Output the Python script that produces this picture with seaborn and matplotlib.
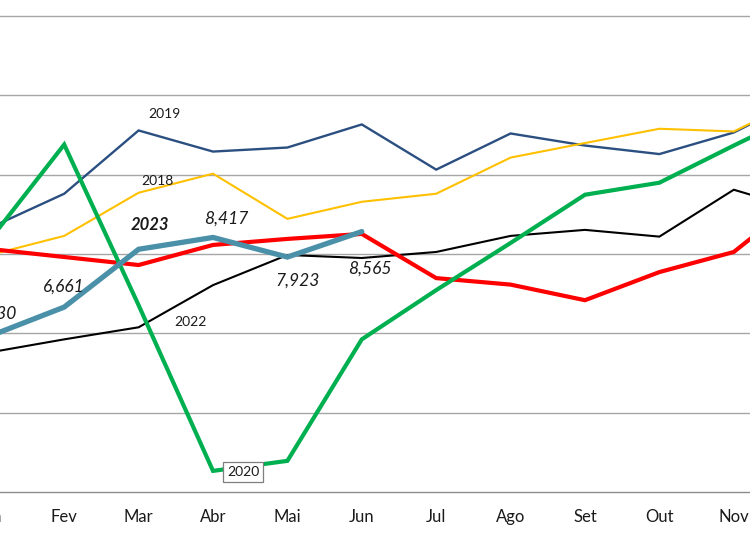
import matplotlib
matplotlib.use("Agg")
import matplotlib.pyplot as plt
import seaborn as sns
import pandas as pd
from matplotlib.ticker import FixedLocator

months = ["Jan", "Fev", "Mar", "Abr", "Mai", "Jun", "Jul", "Ago", "Set", "Out", "Nov", "Dez"]

v2018 = [7975, 8456, 9544, 10025, 8886, 9316, 9519, 10430, 10797, 11157, 11089, 12000]
v2019 = [8658, 9519, 11114, 10582, 10684, 11266, 10127, 11038, 10734, 10519, 11063, 12000]
v2020 = [8354, 10759, 6709, 2532, 2785, 5848, 7089, 8278, 9494, 9797, 10734, 11646]
v2021 = [8127, 7924, 7722, 8228, 8380, 8506, 7392, 7228, 6835, 7544, 8051, 9544]
v2022 = [5519, 5848, 6152, 7215, 7975, 7899, 8051, 8456, 8608, 8438, 9620, 9063]
v2023 = [5930, 6661, 8119, 8417, 7923, 8565]

sns.set_theme(style="white")
plt.rcParams["font.family"] = ["Lato", "DejaVu Sans"]

fig = plt.figure(figsize=(7.5, 5.36), dpi=100)
# axes extend past the figure edges (the reference is a crop of a wider chart)
ax = fig.add_axes([-0.1, 0.0821, 1.2, 0.9179])

series = [
    ("2022", v2022, "#000000", 1.5),
    ("2019", v2019, "#2B4F81", 1.7),
    ("2018", v2018, "#FFC000", 1.5),
    ("2021", v2021, "#FF0000", 3.0),
    ("2020", v2020, "#00B050", 3.0),
    ("2023", v2023, "#4A90A8", 3.8),
]
for name, vals, col, lw in series:
    df = pd.DataFrame({"Mês": months[:len(vals)], "Valor": vals})
    sns.lineplot(data=df, x="Mês", y="Valor", color=col, linewidth=lw,
                 sort=False, ax=ax, solid_joinstyle="miter")

ax.set_yticks([4000, 6000, 8000, 10000, 12000, 14000])
ax.set_yticklabels([])
ax.grid(axis="y", color="#A6A6A6", linewidth=1.0)
ax.grid(axis="x", visible=False)
ax.set_xlabel("")
ax.set_ylabel("")
for s in ["left", "right", "top"]:
    ax.spines[s].set_visible(False)
ax.spines["bottom"].set_color("#8C8C8C")
ax.spines["bottom"].set_linewidth(1.0)

ax.set_xticks(range(len(months)))
ax.set_xticklabels(months, fontsize=12, color="#1A1A1A")
ax.tick_params(axis="x", which="major", length=0, pad=12)
ax.xaxis.set_minor_locator(FixedLocator([i + 0.5 for i in range(-1, 12)]))
ax.tick_params(axis="x", which="minor", length=5, width=1.0, color="#8C8C8C", direction="out")
ax.tick_params(axis="y", length=0)

ax.set_xlim(-0.871, 11.226)
ax.set_ylim(2000, 14403)

def lab(text, m, v, dx, dy, size=10, style="normal", weight="normal", **kw):
    ax.annotate(text, xy=(months.index(m), v), xytext=(dx, dy), textcoords="offset points",
                ha="center", va="center", fontsize=size, fontstyle=style, fontweight=weight,
                color="#1A1A1A", annotation_clip=False, **kw)

lab("2019", "Mar", v2019[2], 18.7, 12.2)
lab("2018", "Mar", v2018[2], 13.7, 8.6)
lab("2022", "Mar", v2022[2], 37.4, 3.6)
lab("2023", "Mar", v2023[2], 7.9, 17.3, size=12, style="italic", weight="bold")
lab("8,417", "Abr", v2023[3], 9.4, 13.7, size=12.5, style="italic")
lab("6,661", "Fev", v2023[1], 0, 14.4, size=12.5, style="italic")
lab("5,930", "Jan", v2023[0], 3, 16.5, size=12.5, style="italic")
lab("7,923", "Mai", v2023[4], 7.2, -17.3, size=12.5, style="italic")
lab("8,565", "Jun", v2023[5], 5.8, -26.6, size=12.5, style="italic")
lab("2020", "Abr", v2020[3], 21.6, -0.7, size=10,
    bbox=dict(boxstyle="square,pad=0.3", facecolor="white", edgecolor="#7F7F7F", linewidth=0.9))

fig.savefig("out.png", dpi=100)
